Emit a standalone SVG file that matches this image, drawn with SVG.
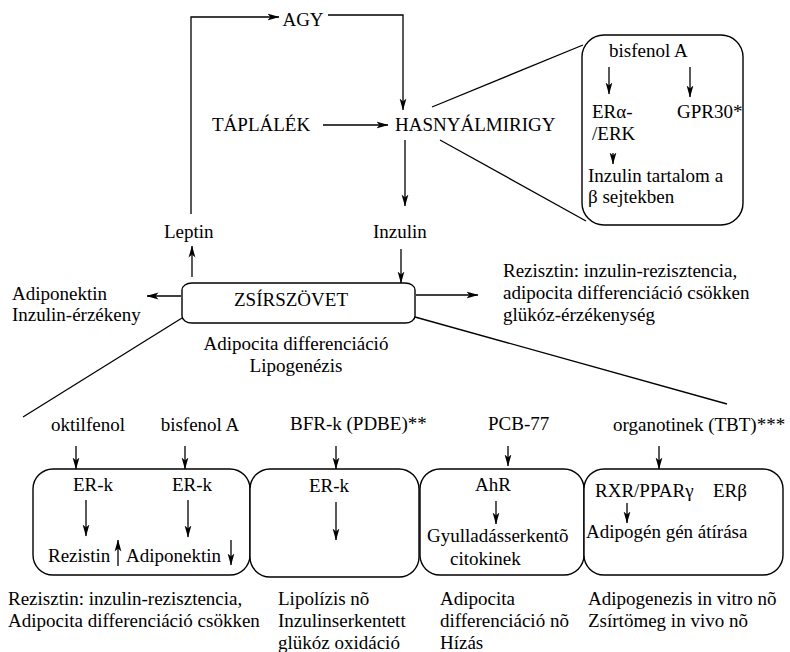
<svg xmlns="http://www.w3.org/2000/svg" width="790" height="652" viewBox="0 0 790 652" font-family="'Liberation Serif', 'Times New Roman', serif" font-size="19">
<defs>
<marker id="ah" markerWidth="12" markerHeight="8" refX="11.5" refY="4" orient="auto" markerUnits="userSpaceOnUse">
<path d="M0,0.6 L12,4 L0,7.4 L3,4 z" fill="#000"/>
</marker>
<style>
text{font-family:'Liberation Serif','Times New Roman',serif;font-size:19px;fill:#000}
.m{text-anchor:middle}
.ln{fill:none;stroke:#000;stroke-width:1.3}
.ar{fill:none;stroke:#000;stroke-width:1.3;marker-end:url(#ah)}
.box{fill:#fff;stroke:#000;stroke-width:1.4}
</style>
</defs>
<rect width="790" height="652" fill="#fff"/>

<g id="connectors">
<polyline class="ar" points="191,214 191,17 279,17"/>
<polyline class="ar" points="328,15 403,15 403,110"/>
<line class="ar" x1="323" y1="125" x2="388" y2="125"/>
<line class="ar" x1="405" y1="140" x2="405" y2="206"/>
<line class="ar" x1="401" y1="249" x2="401" y2="283"/>
<line class="ar" x1="192" y1="277" x2="192" y2="246"/>
<line class="ar" x1="181" y1="296" x2="147" y2="296"/>
<line class="ar" x1="416" y1="295" x2="478" y2="295"/>
<line class="ln" x1="432" y1="107" x2="583" y2="45"/>
<line class="ln" x1="440" y1="140" x2="586" y2="221"/>
<line class="ln" x1="182" y1="318" x2="23" y2="417"/>
<line class="ln" x1="415" y1="317" x2="727" y2="404"/>
<line class="ar" x1="76" y1="446" x2="76" y2="469"/>
<line class="ar" x1="185" y1="446" x2="185" y2="469"/>
<line class="ar" x1="336" y1="446" x2="336" y2="469"/>
<line class="ar" x1="508" y1="446" x2="508" y2="466"/>
<line class="ar" x1="659" y1="446" x2="659" y2="469"/>
</g>

<g id="agy"><text class="m" x="303" y="26">AGY</text></g>
<g id="taplalek"><text x="212" y="131">TÁPLÁLÉK</text></g>
<g id="hasnyalmirigy"><text x="395" y="131">HASNYÁLMIRIGY</text></g>
<g id="leptin"><text x="164" y="238">Leptin</text></g>
<g id="inzulin"><text x="373" y="238">Inzulin</text></g>
<g id="adiponektin-top"><text x="12" y="300">Adiponektin</text><text x="12" y="321">Inzulin-érzékeny</text></g>
<g id="zsirszovet">
<rect class="box" x="182" y="283" width="233" height="40" rx="10" ry="7"/>
<text class="m" x="291" y="306">ZSÍRSZÖVET</text>
</g>
<g id="adipocita-top"><text class="m" x="296" y="350">Adipocita differenciáció</text><text class="m" x="296" y="372">Lipogenézis</text></g>
<g id="rezisztin-top"><text x="503" y="277">Rezisztin: inzulin-rezisztencia,</text><text x="503" y="299">adipocita differenciáció csökken</text><text x="503" y="321">glükóz-érzékenység</text></g>

<g id="bisfenol-box">
<rect class="box" x="582" y="35" width="161" height="190" rx="22" ry="22"/>
<text x="609" y="57">bisfenol A</text>
<line class="ar" x1="609" y1="67" x2="609" y2="94"/>
<line class="ar" x1="690" y1="67" x2="690" y2="97"/>
<text x="592" y="118">ERα-</text>
<text x="592" y="140">/ERK</text>
<text x="677" y="118">GPR30*</text>
<line class="ar" x1="613" y1="153" x2="613" y2="164"/>
<text x="588" y="182">Inzulin tartalom a</text>
<text x="588" y="203">β sejtekben</text>
</g>

<g id="sources">
<text class="m" x="88" y="431">oktilfenol</text>
<text class="m" x="200" y="431">bisfenol A</text>
<text x="290" y="430">BFR-k (PDBE)**</text>
<text x="488" y="430">PCB-77</text>
<text x="613" y="431">organotinek (TBT)***</text>
</g>

<g id="box1">
<rect class="box" x="33" y="469" width="217" height="106" rx="20" ry="20"/>
<text class="m" x="93" y="491">ER-k</text>
<text class="m" x="192" y="491">ER-k</text>
<line class="ar" x1="86" y1="500" x2="86" y2="536"/>
<line class="ar" x1="188" y1="500" x2="188" y2="537"/>
<text x="48" y="562">Rezistin</text>
<line class="ar" x1="118" y1="566" x2="118" y2="540"/>
<text x="126" y="562">Adiponektin</text>
<line class="ar" x1="231" y1="540" x2="231" y2="565"/>
</g>
<g id="box2">
<rect class="box" x="250" y="469" width="169" height="108" rx="20" ry="20"/>
<text class="m" x="329" y="492">ER-k</text>
<line class="ar" x1="336" y1="502" x2="336" y2="540"/>
</g>
<g id="box3">
<rect class="box" x="420" y="469" width="164" height="106" rx="20" ry="20"/>
<text class="m" x="493" y="491">AhR</text>
<line class="ar" x1="496" y1="501" x2="496" y2="524"/>
<text x="427" y="542">Gyulladásserkentõ</text>
<text x="450" y="565">citokinek</text>
</g>
<g id="box4">
<rect class="box" x="584" y="469" width="199" height="106" rx="20" ry="20"/>
<text x="595" y="497">RXR/PPARγ</text>
<text x="713" y="497">ERβ</text>
<line class="ar" x1="627" y1="503" x2="627" y2="523"/>
<text x="586" y="538">Adipogén gén átírása</text>
</g>

<g id="outcomes">
<text x="8" y="605">Rezisztin: inzulin-rezisztencia,</text>
<text x="8" y="627">Adipocita differenciáció csökken</text>
<text x="278" y="605">Lipolízis nõ</text>
<text x="278" y="627">Inzulinserkentett</text>
<text x="278" y="649">glükóz oxidáció</text>
<text x="440" y="605">Adipocita</text>
<text x="440" y="627">differenciáció nõ</text>
<text x="440" y="649">Hízás</text>
<text x="588" y="605">Adipogenezis in vitro nõ</text>
<text x="588" y="627">Zsírtömeg in vivo nõ</text>
</g>
</svg>
